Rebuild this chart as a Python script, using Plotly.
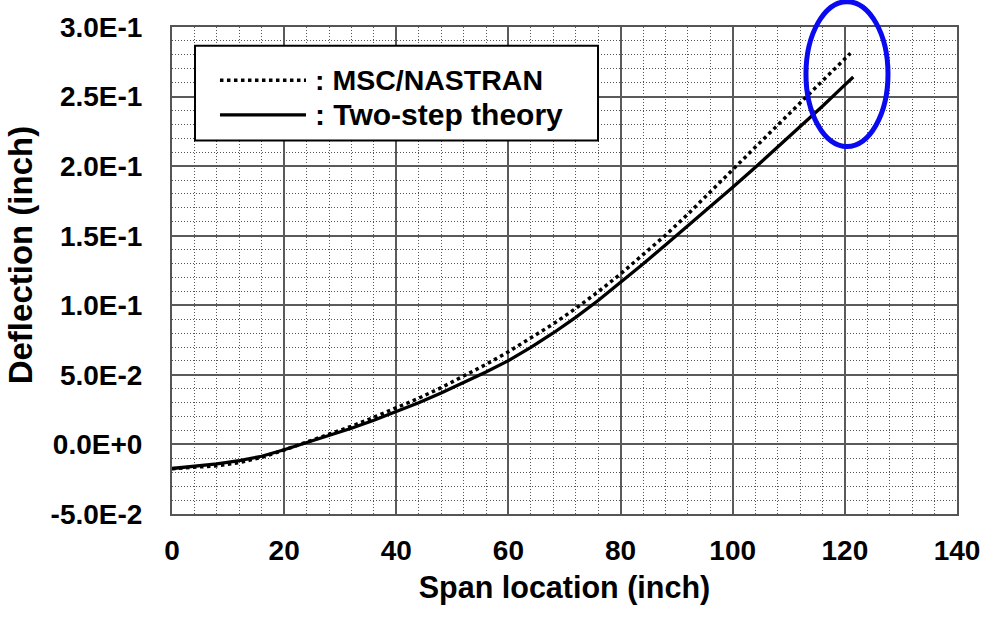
import plotly.graph_objects as go

# Span stations (inch) and beam deflection (inch)
span_nastran = [0, 4, 8, 12, 16, 20, 24, 28, 32, 36, 40, 44, 48, 52, 56, 60,
                64, 68, 72, 76, 80, 84, 88, 92, 96, 100, 104, 108, 112, 116, 120, 121]
defl_nastran = [-0.0175, -0.0166, -0.0153, -0.0130, -0.0093, -0.0040, 0.0016, 0.0073,
                0.0130, 0.0195, 0.0262, 0.0332, 0.0408, 0.0489, 0.0575, 0.0666,
                0.0763, 0.0866, 0.0977, 0.1097, 0.1225, 0.1360, 0.1503, 0.1655,
                0.1812, 0.1975, 0.2135, 0.2292, 0.2450, 0.2607, 0.2770, 0.2811]

span_twostep = [0, 4, 8, 12, 16, 20, 24, 28, 32, 36, 40, 44, 48, 52, 56, 60,
                64, 68, 72, 76, 80, 84, 88, 92, 96, 100, 104, 108, 112, 116, 120, 121.5]
defl_twostep = [-0.0173, -0.0158, -0.0140, -0.0116, -0.0085, -0.0038, 0.0012, 0.0062,
                0.0116, 0.0174, 0.0236, 0.0300, 0.0369, 0.0442, 0.0520, 0.0602,
                0.0697, 0.0801, 0.0913, 0.1034, 0.1164, 0.1297, 0.1433, 0.1570,
                0.1709, 0.1848, 0.1990, 0.2135, 0.2282, 0.2431, 0.2584, 0.2641]

x_ticks = [0, 20, 40, 60, 80, 100, 120, 140]
x_tick_text = ["0", "20", "40", "60", "80", "100", "120", "140"]
y_ticks = [-0.05, 0.0, 0.05, 0.10, 0.15, 0.20, 0.25, 0.30]
y_tick_text = ["-5.0E-2", "0.0E+0", "5.0E-2", "1.0E-1", "1.5E-1", "2.0E-1", "2.5E-1", "3.0E-1"]

legend_labels = [": MSC/NASTRAN", ": Two-step theory"]

FONT = "Arial, Liberation Sans, sans-serif"

fig = go.Figure()
fig.add_trace(go.Scatter(x=span_nastran, y=defl_nastran, mode="lines",
                         line=dict(color="black", width=3.5, dash="dot"),
                         name=legend_labels[0], showlegend=False))
fig.add_trace(go.Scatter(x=span_twostep, y=defl_twostep, mode="lines",
                         line=dict(color="black", width=3.3),
                         name=legend_labels[1], showlegend=False))

axis_common = dict(
    showline=True, mirror=True, linecolor="#555", linewidth=2,
    showgrid=True, gridcolor="#5a5a5a", gridwidth=1.6,
    zeroline=False, ticks="",
    tickfont=dict(family=FONT, size=28, color="black", weight="bold"),
)

fig.update_xaxes(
    range=[0, 140], tickvals=x_ticks, ticktext=x_tick_text,
    minor=dict(dtick=4, showgrid=True, gridcolor="#555", griddash="1px,2px", gridwidth=1),
    title=dict(text="Span location (inch)", font=dict(family=FONT, size=30.5, color="black", weight="bold"),
               standoff=12),
    ticklabelstandoff=10,
    **axis_common,
)
fig.update_yaxes(
    range=[-0.05, 0.30], tickvals=y_ticks, ticktext=y_tick_text,
    minor=dict(dtick=0.01, showgrid=True, gridcolor="#555", griddash="1px,2px", gridwidth=1),
    ticklabelstandoff=22,
    **axis_common,
)

# Vertical axis title
fig.add_annotation(xref="paper", yref="paper", x=-0.1925, y=0.533, text="Deflection (inch)",
                   textangle=-90, showarrow=False, xanchor="center", yanchor="middle",
                   font=dict(family=FONT, size=33, color="black", weight="bold"))

# Legend frame, sample lines and labels
fig.add_shape(type="rect", xref="paper", yref="paper", x0=0.0293, x1=0.5427, y0=0.7667, y1=0.9615,
              line=dict(color="black", width=2), fillcolor="white", layer="above")
fig.add_shape(type="line", xref="paper", yref="paper", x0=0.0611, x1=0.1707, y0=0.8905, y1=0.8905,
              line=dict(color="black", width=3.5, dash="dot"), layer="above")
fig.add_shape(type="line", xref="paper", yref="paper", x0=0.0611, x1=0.1707, y0=0.8195, y1=0.8195,
              line=dict(color="black", width=3.3), layer="above")
for label, yy, fs in zip(legend_labels, [0.8905, 0.8195], [28.5, 30]):
    fig.add_annotation(xref="paper", yref="paper", x=0.1796, y=yy, text=label, showarrow=False,
                       xanchor="left", yanchor="middle",
                       font=dict(family=FONT, size=fs, color="black", weight="bold"))

# Highlight around the tip deflection
fig.add_shape(type="circle", xref="paper", yref="paper", x0=0.8076, x1=0.9121, y0=0.7546, y1=1.052,
              line=dict(color="rgb(10,10,240)", width=5), layer="above")

fig.update_layout(
    width=999, height=620,
    margin=dict(l=172, r=42, t=21, b=106),
    paper_bgcolor="white", plot_bgcolor="white",
    showlegend=False,
)

fig.write_html("out.html")
